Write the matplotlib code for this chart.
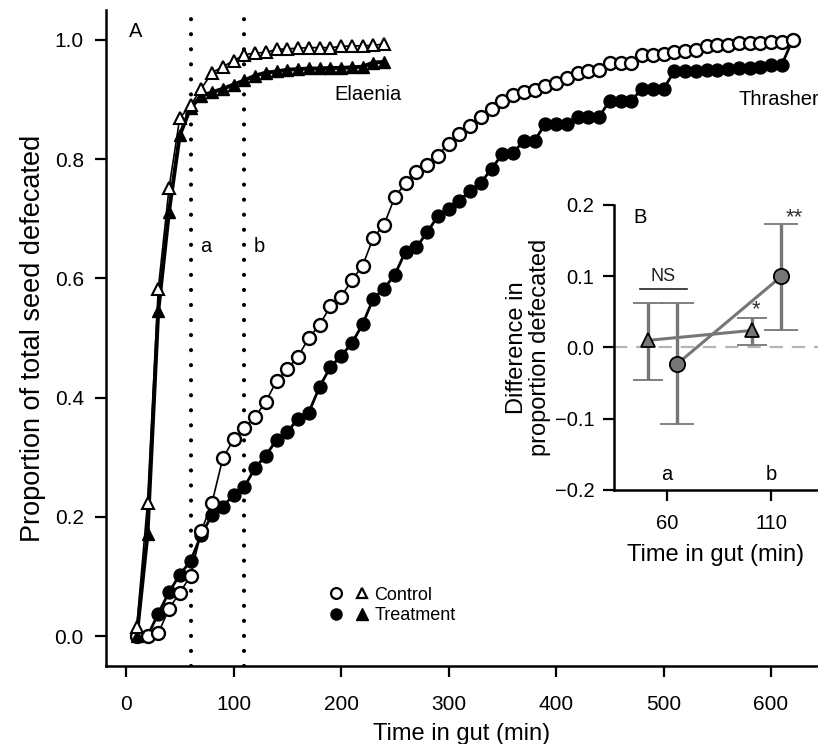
import numpy as np
import matplotlib
matplotlib.use("Agg")
import matplotlib.pyplot as plt
from matplotlib.lines import Line2D
from matplotlib.legend_handler import HandlerTuple

plt.rcParams['font.family'] = ['Liberation Sans', 'DejaVu Sans']

# --- panel A: cumulative proportion of seed defecated ---
elaenia_time = np.arange(10, 250, 10)
elaenia_control = [0.016, 0.224, 0.582, 0.751, 0.869, 0.890, 0.918, 0.945, 0.955, 0.965,
                   0.975, 0.978, 0.979, 0.984, 0.985, 0.986, 0.987, 0.987, 0.987, 0.989,
                   0.990, 0.990, 0.991, 0.993]
elaenia_treatment = [0.0, 0.171, 0.545, 0.712, 0.840, 0.886, 0.906, 0.912, 0.918, 0.925,
                     0.932, 0.940, 0.945, 0.947, 0.950, 0.951, 0.952, 0.952, 0.953, 0.953,
                     0.954, 0.955, 0.962, 0.963]

thrasher_time = np.arange(10, 630, 10)
thrasher_control = [0.0, 0.0, 0.005, 0.046, 0.073, 0.101, 0.176, 0.224, 0.298, 0.330,
                    0.349, 0.368, 0.393, 0.428, 0.448, 0.469, 0.500, 0.522, 0.553, 0.569,
                    0.597, 0.621, 0.668, 0.690, 0.736, 0.760, 0.779, 0.790, 0.806, 0.826,
                    0.842, 0.855, 0.871, 0.884, 0.897, 0.908, 0.913, 0.916, 0.923, 0.928,
                    0.936, 0.944, 0.947, 0.950, 0.962, 0.962, 0.962, 0.975, 0.975, 0.977,
                    0.980, 0.982, 0.983, 0.990, 0.991, 0.991, 0.995, 0.995, 0.995, 0.997,
                    0.997, 1.0]
thrasher_treatment = [0.0, 0.0, 0.038, 0.074, 0.103, 0.126, 0.170, 0.203, 0.217, 0.237,
                      0.250, 0.282, 0.303, 0.329, 0.342, 0.365, 0.375, 0.418, 0.451, 0.470,
                      0.491, 0.523, 0.566, 0.583, 0.606, 0.645, 0.652, 0.677, 0.704, 0.716,
                      0.730, 0.747, 0.760, 0.784, 0.808, 0.810, 0.831, 0.831, 0.859, 0.859,
                      0.859, 0.871, 0.871, 0.871, 0.898, 0.898, 0.898, 0.918, 0.918, 0.918,
                      0.947, 0.947, 0.948, 0.949, 0.950, 0.951, 0.952, 0.953, 0.955, 0.958,
                      0.958, 1.0]

cut_times = [60, 110]
cut_labels = ['a', 'b']

# --- panel B: difference (treatment - control) at the two cut times ---
elaenia_diff = [0.010, 0.024]
elaenia_lo = [-0.045, 0.004]
elaenia_hi = [0.062, 0.042]
thrasher_diff = [-0.023, 0.100]
thrasher_lo = [-0.108, 0.025]
thrasher_hi = [0.062, 0.173]
signif = ['*', '**']

fig = plt.figure(figsize=(8.18, 7.44), dpi=100)
ax = fig.add_axes([0.1296, 0.1048, 0.8704, 0.8817])

ms = 9.3
# treatment first so control sits on top
ax.plot(thrasher_time, thrasher_treatment, '-o', color='black', lw=2.0,
        ms=ms, mfc='black', mec='black', zorder=3)
ax.plot(thrasher_time, thrasher_control, '-o', color='black', lw=1.2,
        ms=ms, mfc='white', mec='black', mew=1.7, zorder=4)
ax.plot(elaenia_time, elaenia_treatment, '-^', color='black', lw=2.8,
        ms=ms, mfc='black', mec='black', zorder=5)
ax.plot(elaenia_time, elaenia_control, '-^', color='black', lw=1.2,
        ms=ms, mfc='white', mec='black', mew=1.5, zorder=6)

for t, lab in zip(cut_times, cut_labels):
    ax.axvline(t, color='black', lw=3.0, ls=(0, (0.01, 3.6)),
               dash_capstyle='round', zorder=2)
    ax.text(t + 9, 0.653, lab, fontsize=14.5, ha='left', va='center')

ax.text(3, 1.014, 'A', fontsize=14.5, ha='left', va='center')
ax.text(225, 0.908, 'Elaenia', fontsize=14.5, ha='center', va='center')
ax.text(645, 0.900, 'Thrasher', fontsize=14.5, ha='right', va='center')

ax.set_xlim(-18.6, 643.7)
ax.set_ylim(-0.05, 1.05)
ax.set_xticks([0, 100, 200, 300, 400, 500, 600])
ax.set_yticks([0.0, 0.2, 0.4, 0.6, 0.8, 1.0])
ax.set_yticklabels(['0.0', '0.2', '0.4', '0.6', '0.8', '1.0'])
for s in ['top', 'right']:
    ax.spines[s].set_visible(False)
for s in ['left', 'bottom']:
    ax.spines[s].set_linewidth(1.8)
ax.tick_params(direction='out', length=8, width=1.6, labelsize=15)
ax.tick_params(axis='x', pad=13)
ax.tick_params(axis='y', pad=8)
ax.set_xlabel('Time in gut (min)', fontsize=17, labelpad=6)
ax.set_ylabel('Proportion of total seed defecated', fontsize=19.5, labelpad=6)

h_ctrl = (Line2D([], [], ls='none', marker='o', ms=7.8, mfc='white', mec='black', mew=1.6),
          Line2D([], [], ls='none', marker='^', ms=7.8, mfc='white', mec='black', mew=1.6))
h_trt = (Line2D([], [], ls='none', marker='o', ms=8, mfc='black', mec='black'),
         Line2D([], [], ls='none', marker='^', ms=8, mfc='black', mec='black'))
ax.legend([h_ctrl, h_trt], ['Control', 'Treatment'],
          handler_map={tuple: HandlerTuple(ndivide=None, pad=0.9)},
          loc='center left', bbox_to_anchor=(0.405, 0.186), bbox_transform=fig.transFigure,
          frameon=False, fontsize=13, handlelength=2.0, handletextpad=0.4,
          labelspacing=0.2, borderpad=0, borderaxespad=0)

# --- inset B ---
grey = '#767676'
axb = fig.add_axes([0.7506, 0.3414, 0.2494, 0.3831])
axb.patch.set_alpha(0)
x_el = [t - 9 for t in cut_times]
x_th = [t + 5 for t in cut_times]

axb.axhline(0, color='#b5b5b5', lw=1.6, ls=(0, (6, 4)), zorder=1)
axb.errorbar(x_el, elaenia_diff,
             yerr=[np.subtract(elaenia_diff, elaenia_lo), np.subtract(elaenia_hi, elaenia_diff)],
             fmt='-^', color=grey, lw=2.2, elinewidth=2.4, capsize=11, capthick=2.4,
             ms=10, mfc=grey, mec='black', mew=1.3, zorder=3)
axb.errorbar(x_th, thrasher_diff,
             yerr=[np.subtract(thrasher_diff, thrasher_lo), np.subtract(thrasher_hi, thrasher_diff)],
             fmt='-o', color=grey, lw=2.2, elinewidth=2.4, capsize=12, capthick=2.4,
             ms=11, mfc=grey, mec='black', mew=1.3, zorder=3)

axb.plot([47, 69.6], [0.082, 0.082], color='#222222', lw=1.2)
axb.text(58.3, 0.088, 'NS', fontsize=13, ha='center', va='bottom', color='#222222')
axb.text(x_el[1] + 2, 0.038, signif[0], fontsize=16, ha='center', va='bottom', color='#333333')
axb.text(x_th[1] + 6, 0.168, signif[1], fontsize=16, ha='center', va='bottom', color='#333333')
axb.text(44, 0.182, 'B', fontsize=14.5, ha='left', va='center')
for t, lab in zip(cut_times, cut_labels):
    axb.text(t, -0.178, lab, fontsize=14.5, ha='center', va='center')

axb.set_xlim(34.7, 132.5)
axb.set_ylim(-0.2, 0.2)
axb.set_xticks(cut_times)
axb.set_yticks([-0.2, -0.1, 0.0, 0.1, 0.2])
axb.set_yticklabels(['\u22120.2', '\u22120.1', '0.0', '0.1', '0.2'])
for s in ['top', 'right']:
    axb.spines[s].set_visible(False)
for s in ['left', 'bottom']:
    axb.spines[s].set_linewidth(1.8)
axb.tick_params(direction='out', length=8, width=1.6, labelsize=14.5)
axb.tick_params(axis='x', pad=9)
axb.tick_params(axis='y', pad=6)
axb.set_xlabel('Time in gut (min)', fontsize=17, labelpad=8)
axb.set_ylabel('Difference in\nproportion defecated', fontsize=17, labelpad=3,
               linespacing=1.05)

fig.savefig('out.png', dpi=100)
